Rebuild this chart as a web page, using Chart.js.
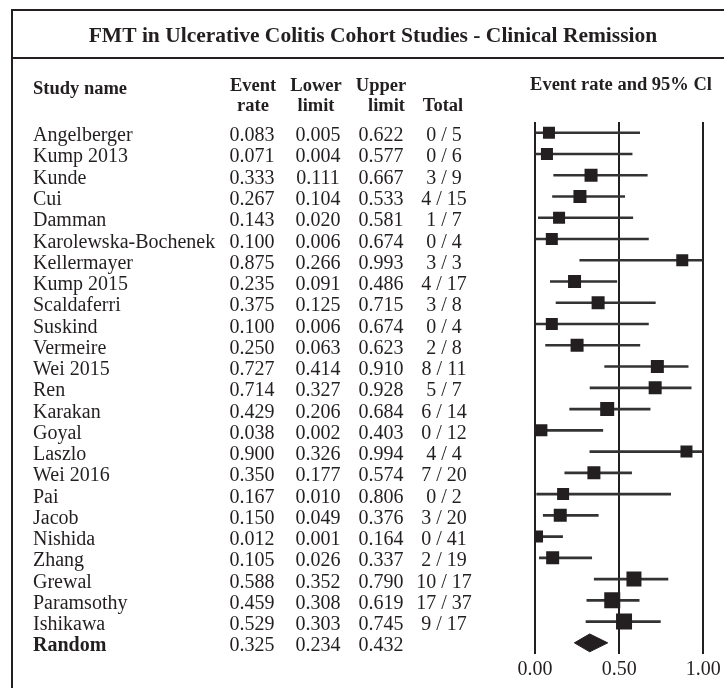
<!DOCTYPE html>
<html>
<head>
<meta charset="utf-8">
<script src="https://cdn.jsdelivr.net/npm/chart.js@4"></script>
<style>
  html, body { margin: 0; padding: 0; background: #fff; }
  canvas { display: block; }
</style>
</head>
<body>
<canvas id="forestChart" width="724" height="688"></canvas>
<script>
// data
const studies = ["Angelberger", "Kump 2013", "Kunde", "Cui", "Damman", "Karolewska-Bochenek",
  "Kellermayer", "Kump 2015", "Scaldaferri", "Suskind", "Vermeire", "Wei 2015", "Ren",
  "Karakan", "Goyal", "Laszlo", "Wei 2016", "Pai", "Jacob", "Nishida", "Zhang", "Grewal",
  "Paramsothy", "Ishikawa"];
const eventRate = [0.083, 0.071, 0.333, 0.267, 0.143, 0.100, 0.875, 0.235, 0.375, 0.100, 0.250,
  0.727, 0.714, 0.429, 0.038, 0.900, 0.350, 0.167, 0.150, 0.012, 0.105, 0.588, 0.459, 0.529];
const lowerLimit = [0.005, 0.004, 0.111, 0.104, 0.020, 0.006, 0.266, 0.091, 0.125, 0.006, 0.063,
  0.414, 0.327, 0.206, 0.002, 0.326, 0.177, 0.010, 0.049, 0.001, 0.026, 0.352, 0.308, 0.303];
const upperLimit = [0.622, 0.577, 0.667, 0.533, 0.581, 0.674, 0.993, 0.486, 0.715, 0.674, 0.623,
  0.910, 0.928, 0.684, 0.403, 0.994, 0.574, 0.806, 0.376, 0.164, 0.337, 0.790, 0.619, 0.745];
const events = [0, 0, 3, 4, 1, 0, 3, 4, 3, 0, 2, 8, 5, 6, 0, 4, 7, 0, 3, 0, 2, 10, 17, 9];
const totalN = [5, 6, 9, 15, 7, 4, 3, 17, 8, 4, 8, 11, 7, 14, 12, 4, 20, 2, 20, 41, 19, 17, 37, 17];
const pooled = { label: "Random", rate: 0.325, lower: 0.234, upper: 0.432 };
const tickValues = [0, 0.5, 1];

// square side in px (study weight)
const squareSide = [12, 12, 13, 13, 12, 12, 12, 13, 13, 12, 13, 13, 13, 14, 12, 12, 13, 12, 13, 12, 13, 15, 16, 16];

const ink = "#231f20";
const serif = "'Liberation Serif', 'Times New Roman', serif";
const randomRow = studies.length;

const ciData = studies.map((s, i) => ({ x: [lowerLimit[i], upperLimit[i]], y: i }));
const rateData = studies.map((s, i) => ({ x: eventRate[i], y: i }));
const halfH = 0.42; // diamond half height in rows
const diamondData = [
  { x: pooled.lower, y: randomRow },
  { x: pooled.rate, y: randomRow - halfH },
  { x: pooled.upper, y: randomRow },
  { x: pooled.rate, y: randomRow + halfH },
  { x: pooled.lower, y: randomRow }
];

const tablePlugin = {
  id: "forestTable",
  afterDraw(chart) {
    const ctx = chart.ctx;
    const xs = chart.scales.x;
    const ys = chart.scales.y;
    ctx.save();
    ctx.fillStyle = ink;
    ctx.strokeStyle = ink;

    // frame
    ctx.lineWidth = 2;
    ctx.beginPath();
    ctx.moveTo(12, 688); ctx.lineTo(12, 10); ctx.lineTo(724, 10);
    ctx.moveTo(12, 58); ctx.lineTo(724, 58);
    ctx.stroke();

    // title
    ctx.font = "bold 21.5px " + serif;
    ctx.textAlign = "center";
    ctx.textBaseline = "alphabetic";
    ctx.fillText("FMT in Ulcerative Colitis Cohort Studies - Clinical Remission", 373, 42);

    // headers
    ctx.font = "bold 18.5px " + serif;
    ctx.textAlign = "left";
    ctx.fillText("Study name", 33, 94);
    ctx.textAlign = "center";
    ctx.fillText("Event", 253, 91);
    ctx.fillText("rate", 253, 111);
    ctx.fillText("Lower", 316, 91);
    ctx.fillText("limit", 316, 111);
    ctx.fillText("Upper", 381, 91);
    ctx.textAlign = "right";
    ctx.fillText("limit", 405, 111);
    ctx.textAlign = "center";
    ctx.fillText("Total", 443, 111);
    ctx.fillText("Event rate and 95% Cl", 621, 90);

    // rows
    const cols = [252, 318, 381, 444];
    studies.forEach((name, i) => {
      const y = ys.getPixelForValue(i) + 8.5;
      ctx.font = "20px " + serif;
      ctx.textAlign = "left";
      ctx.fillText(name, 33, y);
      ctx.textAlign = "center";
      ctx.fillText(eventRate[i].toFixed(3), cols[0], y);
      ctx.fillText(lowerLimit[i].toFixed(3), cols[1], y);
      ctx.fillText(upperLimit[i].toFixed(3), cols[2], y);
      ctx.fillText(events[i] + " / " + totalN[i], cols[3], y);
    });
    const yr = ys.getPixelForValue(randomRow) + 8.5;
    ctx.font = "bold 20px " + serif;
    ctx.textAlign = "left";
    ctx.fillText(pooled.label, 33, yr);
    ctx.font = "20px " + serif;
    ctx.textAlign = "center";
    ctx.fillText(pooled.rate.toFixed(3), cols[0], yr);
    ctx.fillText(pooled.lower.toFixed(3), cols[1], yr);
    ctx.fillText(pooled.upper.toFixed(3), cols[2], yr);

    // x tick labels
    tickValues.forEach(v => {
      ctx.fillText(v.toFixed(2), xs.getPixelForValue(v), 675);
    });
    ctx.restore();
  }
};

new Chart(document.getElementById("forestChart"), {
  type: "bar",
  data: {
    datasets: [
      {
        type: "bar",
        data: ciData,
        backgroundColor: "#333333",
        borderWidth: 0,
        barThickness: 2,
        indexAxis: "y",
        order: 3
      },
      {
        type: "line",
        data: rateData,
        showLine: false,
        pointStyle: "rect",
        pointRadius: squareSide.map(s => s / 2 / Math.SQRT1_2),
        pointBackgroundColor: ink,
        pointBorderWidth: 0,
        indexAxis: "y",
        order: 1
      },
      {
        type: "line",
        data: diamondData,
        borderColor: ink,
        borderWidth: 1,
        backgroundColor: ink,
        fill: "shape",
        tension: 0,
        pointRadius: 0,
        indexAxis: "y",
        order: 2
      }
    ]
  },
  options: {
    responsive: false,
    animation: false,
    indexAxis: "y",
    layout: { padding: { left: 535, right: 20.7, top: 122.1, bottom: 34.5 } },
    plugins: {
      legend: { display: false },
      tooltip: { enabled: false },
      title: { display: false }
    },
    scales: {
      x: {
        type: "linear",
        min: 0,
        max: 1,
        offset: false,
        afterBuildTicks: axis => { axis.ticks = tickValues.map(v => ({ value: v })); },
        grid: { color: ink, lineWidth: 2, drawTicks: false, offset: false },
        border: { display: false },
        ticks: { display: false }
      },
      y: {
        type: "linear",
        min: -0.5,
        max: randomRow + 0.5,
        reverse: true,
        offset: false,
        display: false
      }
    }
  },
  plugins: [tablePlugin]
});
</script>
</body>
</html>
